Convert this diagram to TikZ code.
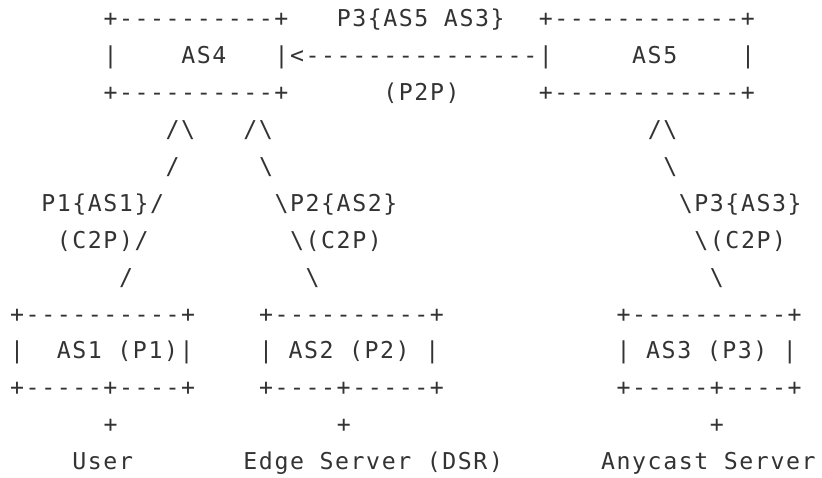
\documentclass[tikz,border=0pt]{standalone}
\usepackage{fontspec}
\setmonofont[LetterSpace=6.8]{DejaVu Sans Mono}
\usepackage{xcolor}
\usepackage{tikz}
\usetikzlibrary{positioning}
\definecolor{ink}{HTML}{333333}
\newcommand{\asciifont}{\ttfamily\fontsize{11.6pt}{14pt}\selectfont}
\newcommand{\bs}{\textbackslash}
\tikzset{
	x = 7.775pt,
	y = -18.45pt,
	glyphs/.style={
		anchor=base west,
		inner sep=0pt,
		outer sep=0pt,
		text=ink,
		font=\asciifont
	}
}

\begin{document}
\begin{tikzpicture}
\useasboundingbox (-5.1pt,13.4pt) rectangle (405.9pt,-225.1pt);

\node[glyphs] (as4top) at (6,0) {+----------+};
\node[glyphs] (p3path) at (21,0) {P3\{AS5 AS3\}};
\node[glyphs] (as5top) at (34,0) {+------------+};

\node[glyphs] (as4left) at (6,1) {|};
\node[glyphs] (as4) at (11,1) {AS4};
\node[glyphs] (peer) at (17,1) {|<---------------|};
\node[glyphs] (as5) at (40,1) {AS5};
\node[glyphs] (as5right) at (47,1) {|};

\node[glyphs] (as4bot) at (6,2) {+----------+};
\node[glyphs] (p2p) at (24,2) {(P2P)};
\node[glyphs] (as5bot) at (34,2) {+------------+};

\node[glyphs] (tip1) at (10,3) {/\bs};
\node[glyphs] (tip2) at (15,3) {/\bs};
\node[glyphs] (tip3) at (41,3) {/\bs};

\node[glyphs] (up1a) at (10,4) {/};
\node[glyphs] (up2a) at (16,4) {\bs};
\node[glyphs] (up3a) at (42,4) {\bs};

\node[glyphs] (p1path) at (2,5) {P1\{AS1\}/};
\node[glyphs] (p2path) at (17,5) {\bs P2\{AS2\}};
\node[glyphs] (p3path2) at (43,5) {\bs P3\{AS3\}};

\node[glyphs] (c2p1) at (3,6) {(C2P)/};
\node[glyphs] (c2p2) at (18,6) {\bs(C2P)};
\node[glyphs] (c2p3) at (44,6) {\bs(C2P)};

\node[glyphs] (up1b) at (7,7) {/};
\node[glyphs] (up2b) at (19,7) {\bs};
\node[glyphs] (up3b) at (45,7) {\bs};

\node[glyphs] (as1top) at (0,8) {+----------+};
\node[glyphs] (as2top) at (16,8) {+----------+};
\node[glyphs] (as3top) at (39,8) {+----------+};

\node[glyphs] (as1left) at (0,9) {|};
\node[glyphs] (as1) at (3,9) {AS1 (P1)|};
\node[glyphs] (as2) at (16,9) {| AS2 (P2) |};
\node[glyphs] (as3) at (39,9) {| AS3 (P3) |};

\node[glyphs] (as1bot) at (0,10) {+-----+----+};
\node[glyphs] (as2bot) at (16,10) {+----+-----+};
\node[glyphs] (as3bot) at (39,10) {+-----+----+};

\node[glyphs] (link1) at (6,11) {+};
\node[glyphs] (link2) at (21,11) {+};
\node[glyphs] (link3) at (45,11) {+};

\node[glyphs] (user) at (4,12) {User};
\node[glyphs] (edge) at (15,12) {Edge Server (DSR)};
\node[glyphs] (anycast) at (38,12) {Anycast Server};
\end{tikzpicture}
\end{document}
